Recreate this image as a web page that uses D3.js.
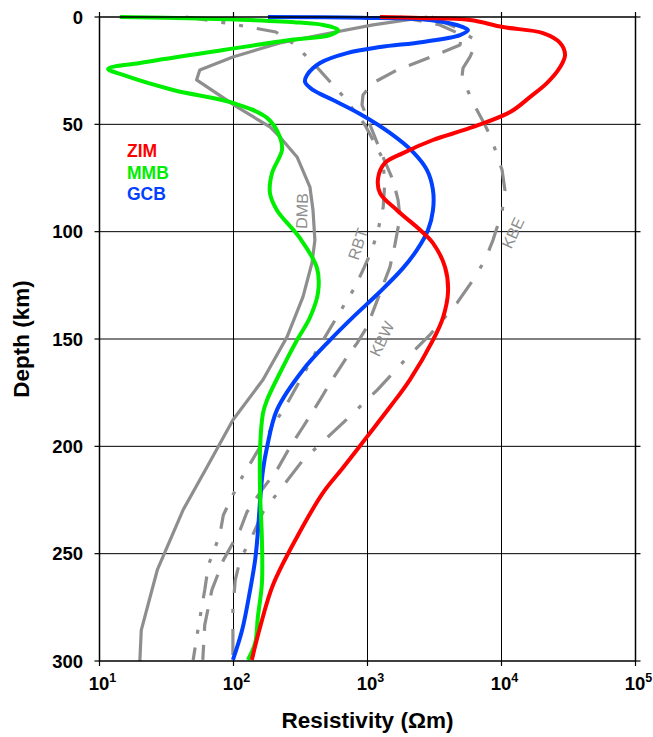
<!DOCTYPE html>
<html><head><meta charset="utf-8">
<script src="https://cdn.jsdelivr.net/npm/d3@7"></script>
<style>
html,body{margin:0;padding:0;background:#fff;}
svg{display:block;font-family:"Liberation Sans",Arial,Helvetica,sans-serif;}
</style></head>
<body><svg id="chart" width="653" height="737"></svg>
<script>
// ---- data: [depth (km), resistivity (ohm-m)] ----
const ZIM = [[0,1240],[0.5,2470],[1.4,5820],[4.7,10250],[7.5,20400],[12.1,27400],[17.7,29800],[23.3,27400],[30.7,21900],[37.3,16300],[44.3,11600],[51.7,5820],[57.3,3080],[63.4,1840],[68,1350],[75,1200],[82,1240],[90,1660],[99.2,2470],[105.3,3080],[116.5,3790],[128,3990],[140,3660],[150.5,3080],[169,2070],[181.7,1470],[195.6,990],[210,656],[221.7,465],[242.2,298],[264.6,197],[284.2,158],[299.5,137]];
const MMB = [[0,14.2],[0.7,56],[1.4,133],[2.6,314],[3.7,466],[6.1,603],[8.4,525],[10.7,264],[15.4,84],[21.4,20],[24.2,11.6],[27,15],[34,35.4],[40,99],[47,178],[55.9,222],[62,230],[72.7,194],[82,187],[90,211],[103,313],[117,420],[128.6,427],[140,372],[150.5,298],[163,234],[178.4,178],[184.5,166],[200.3,158],[221.7,158],[243.6,163],[263.7,163],[279.5,152],[291.6,145],[299.5,128]];
const GCB = [[0,181],[0.3,900],[1.4,2920],[4.7,5160],[6.1,5620],[8.4,4900],[11.6,2600],[14,1240],[16.8,703],[21.4,442],[27,354],[30.3,342],[34,392],[38.7,553],[45.2,880],[54,1470],[62.9,2190],[71.3,2780],[80.6,3080],[90,3080],[99.2,2830],[108.5,2340],[117,1840],[128,1240],[139.8,780],[150.5,525],[164.4,330],[183,211],[200.3,178],[211,166],[225,158],[240,152],[253,145],[267,133],[285.6,116],[299.5,99]];
const DMB = [[0,2800],[3.7,1100],[8.4,442],[12.1,222],[18.6,99],[24.7,56],[29.3,53],[41.9,106],[51.2,187],[55.9,222],[65.2,298],[79.2,372],[90,392],[104,405],[114.6,385],[130.4,330],[149,251],[169,166],[187.7,99],[210,63],[229.7,42],[257.6,27],[285.6,20.5],[300,20]];
const RBT = [[0,44],[3.3,99],[7,207],[13,288],[21.4,392],[36.8,656],[50.3,958],[65.2,1280],[76,1350],[88.5,1310],[99.2,1200],[108.5,1080],[117.9,925],[125.8,807],[138.8,603],[146.7,508],[155.1,420],[178.4,260],[202.6,150],[214.3,116],[222.7,99],[232,84],[241.3,79],[255.3,65],[266.9,61],[283.2,55],[299.5,50]];
const KBW = [[0,1750],[3.7,3470],[8.4,5070],[13,4900],[16.3,3660],[20,2600],[24.7,1660],[30.7,1100],[36.3,925],[41,910],[50.3,1045],[62,1240],[76,1550],[85.2,1690],[93.2,1750],[106.2,1600],[116.5,1470],[128.6,1240],[144.4,991],[151.9,836],[158.4,703],[170.5,525],[178.4,442],[191,330],[200.3,264],[211,211],[220.3,163],[230.6,126],[239,112],[253,84],[266.9,69],[283.2,61],[299.5,59]];
const KBE = [[0,3000],[4.7,4500],[10.7,6340],[15.4,6130],[18.6,5820],[23.8,5160],[28,5070],[40,6130],[50.3,7530],[57.3,8490],[71.3,10100],[80.6,10600],[90.8,10100],[103.9,8640],[113.2,7530],[122.5,6130],[133.2,4660],[148.1,2920],[158.8,1970],[173.8,1180],[189.1,656],[206.4,330],[220.3,222],[230.6,166],[242.2,137],[253,112],[262.3,103],[276.2,99],[299.5,99]];

const xTicks = [10,100,1000,10000,100000];
const xTickExp = ["1","2","3","4","5"];
const yTicks = [0,50,100,150,200,250,300];
const legendNames = ["ZIM","MMB","GCB"];
const legendColors = ["#ff0000","#00ee00","#0040ff"];
const grayNames = ["DMB","RBT","KBW","KBE"];

// ---- layout ----
const L = 99.5, R = 635.5, T = 17, B = 661;
const svg = d3.select("#chart");
const x = d3.scaleLog().domain([10,1e5]).range([L,R]);
const y = d3.scaleLinear().domain([0,300]).range([T,B]);
const FONT = '"Liberation Sans",Arial,Helvetica,sans-serif';

// grid
const g = svg.append("g");
g.selectAll("line.vg").data(xTicks.slice(1,-1)).join("line")
  .attr("x1",d=>x(d)).attr("x2",d=>x(d)).attr("y1",T).attr("y2",B)
  .attr("stroke","#000").attr("stroke-width",1);
g.selectAll("line.hg").data(yTicks.slice(1,-1)).join("line")
  .attr("y1",d=>y(d)).attr("y2",d=>y(d)).attr("x1",L).attr("x2",R)
  .attr("stroke","#000").attr("stroke-width",1);

// curves
const smooth = d3.line().x(d=>x(d[1])).y(d=>y(d[0])).curve(d3.curveCatmullRom.alpha(0.5));
const straight = d3.line().x(d=>x(d[1])).y(d=>y(d[0]));
const GRAY = "#8e8e8e";
const grayStyles = [
  {data:DMB, dash:null},
  {data:RBT, dash:"22,14,4,14,4,14"},
  {data:KBW, dash:"22,14"},
  {data:KBE, dash:"26,16,4,16"}
];
grayStyles.forEach(s=>{
  svg.append("path").datum(s.data).attr("d",straight)
    .attr("fill","none").attr("stroke",GRAY).attr("stroke-width",3.2)
    .attr("stroke-dasharray",s.dash).attr("stroke-linejoin","round");
});
[[GCB,2],[MMB,1],[ZIM,0]].forEach(([data,i])=>{
  svg.append("path").datum(data).attr("d",smooth)
    .attr("fill","none").attr("stroke",legendColors[i]).attr("stroke-width",4)
    .attr("stroke-linejoin","round");
});

// frame
svg.append("rect").attr("x",L).attr("y",T).attr("width",R-L).attr("height",B-T)
  .attr("fill","none").attr("stroke","#000").attr("stroke-width",1.5);

// ticks on all four sides
const tk = svg.append("g").attr("stroke","#000").attr("stroke-width",1.2);
xTicks.forEach(v=>{
  tk.append("line").attr("x1",x(v)).attr("x2",x(v)).attr("y1",B).attr("y2",B+5);
  tk.append("line").attr("x1",x(v)).attr("x2",x(v)).attr("y1",T).attr("y2",T-5);
});
yTicks.forEach(v=>{
  tk.append("line").attr("y1",y(v)).attr("y2",y(v)).attr("x1",L).attr("x2",L-5);
  tk.append("line").attr("y1",y(v)).attr("y2",y(v)).attr("x1",R).attr("x2",R+5);
});

// x tick labels (10^n)
xTicks.forEach((v,i)=>{
  const t = svg.append("text").attr("x",x(v)+3).attr("y",690)
    .attr("text-anchor","middle").attr("font-family",FONT)
    .attr("font-weight","bold").attr("font-size",18.5).attr("fill","#000");
  t.append("tspan").text("10");
  t.append("tspan").attr("font-size",12.5).attr("dy",-8).text(xTickExp[i]);
});
// y tick labels
yTicks.forEach(v=>{
  svg.append("text").attr("x",83).attr("y",y(v)).attr("dy","0.36em")
    .attr("text-anchor","end").attr("font-family",FONT)
    .attr("font-weight","bold").attr("font-size",18.5).attr("fill","#000").text(v);
});

// axis titles
svg.append("text").attr("x",(L+R)/2).attr("y",728).attr("text-anchor","middle")
  .attr("font-family",FONT).attr("font-weight","bold").attr("font-size",22.5)
  .text("Resistivity (\u03A9m)");
svg.append("text").attr("transform",`translate(29,${(T+B)/2}) rotate(-90)`)
  .attr("text-anchor","middle").attr("font-family",FONT).attr("font-weight","bold")
  .attr("font-size",22.5).text("Depth (km)");

// legend labels
legendNames.forEach((n,i)=>{
  svg.append("text").attr("x",127).attr("y",157+i*21.5)
    .attr("font-family",FONT).attr("font-weight","bold").attr("font-size",17.5)
    .attr("fill",legendColors[i]).text(n);
});

// gray curve labels
const grayLabelPos = [[302,211,-88],[358,244,-72],[382,339,-64],[513,233,-65]];
grayNames.forEach((n,i)=>{
  const [px,py,rot] = grayLabelPos[i];
  svg.append("text").attr("transform",`translate(${px},${py}) rotate(${rot})`)
    .attr("text-anchor","middle").attr("dominant-baseline","central")
    .attr("font-family",FONT).attr("font-size",16).attr("fill",GRAY).text(n);
});
</script></body></html>
